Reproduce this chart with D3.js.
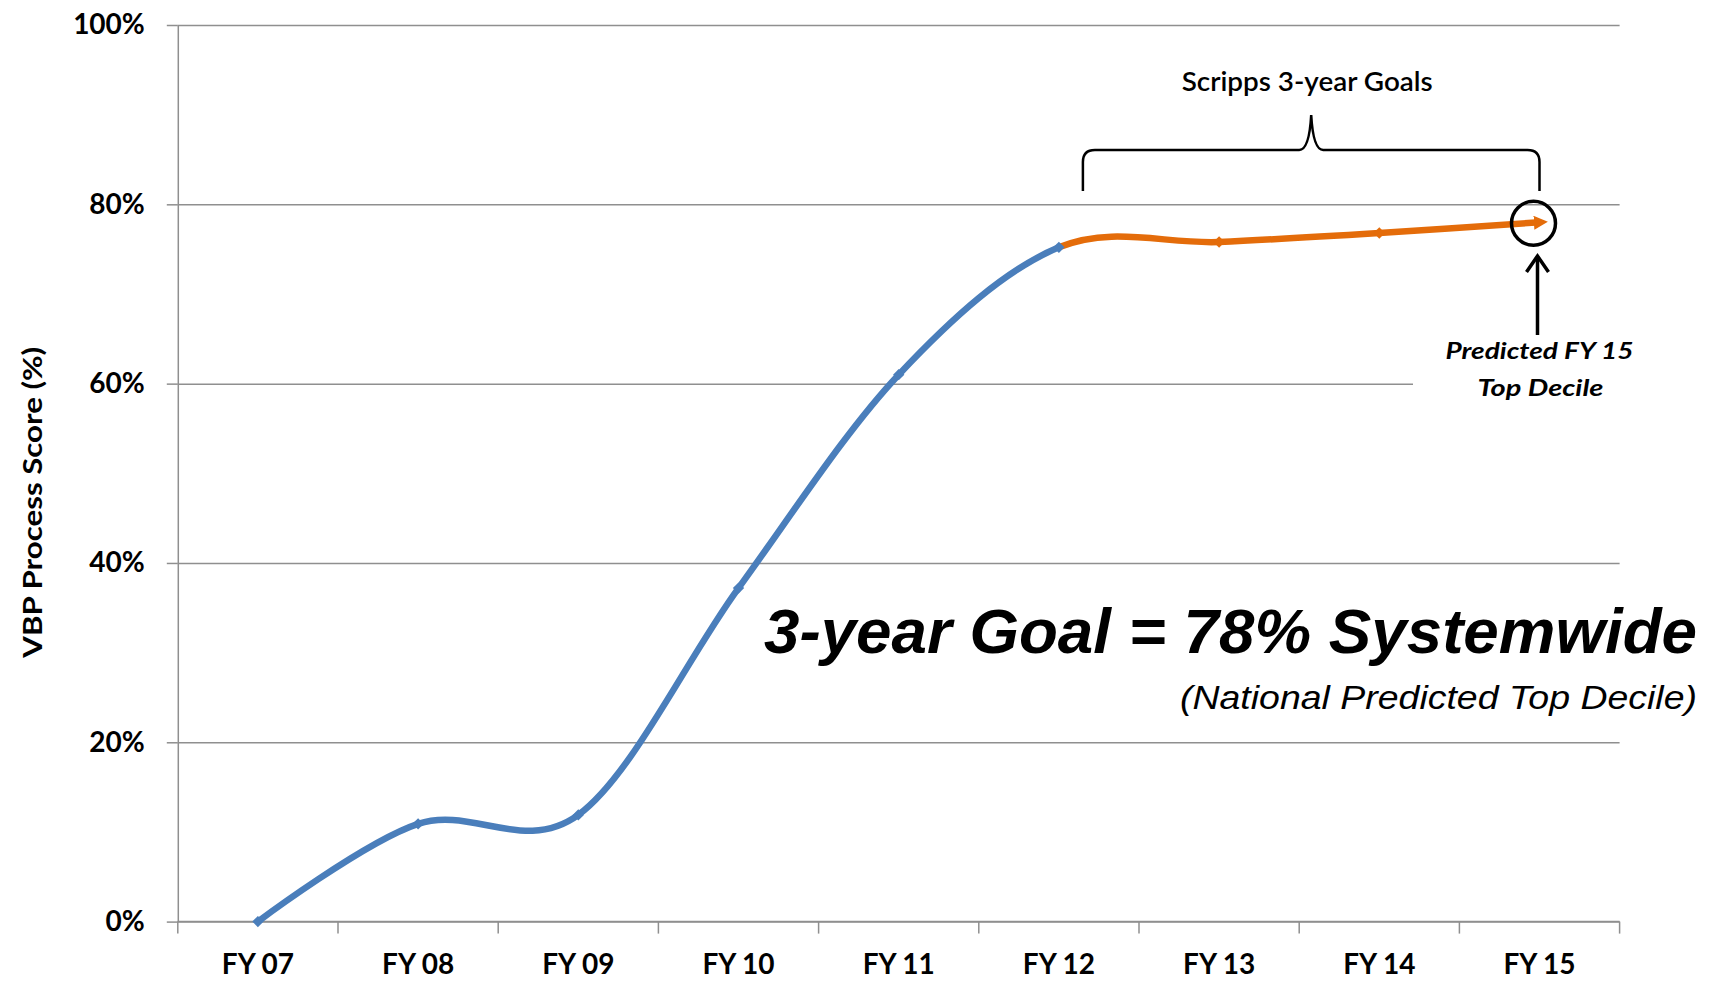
<!DOCTYPE html>
<html>
<head>
<meta charset="utf-8">
<script src="https://cdn.jsdelivr.net/npm/d3@7"></script>
<style>
  html, body { margin: 0; padding: 0; background: #fff; }
  svg { display: block; }
</style>
</head>
<body>
<svg id="chart" width="1710" height="987"></svg>
<script>
// ---- data ----
const categories = ["FY 07", "FY 08", "FY 09", "FY 10", "FY 11", "FY 12", "FY 13", "FY 14", "FY 15"];
const scores = [0, 10.9, 11.9, 37.2, 61.0, 75.2, 75.8, 76.8, 78.0];
const yTicks = [0, 20, 40, 60, 80, 100];
const splitCategory = "FY 12";   // actual -> goals
const goalCategory = "FY 15";
const goalValue = 78;
const yTitle = "VBP Process Score (%)";
const braceLabel = "Scripps 3-year Goals";
const predictedLines = ["Predicted FY 15", "Top Decile"];
const bigText = "3-year Goal = 78% Systemwide";
const subText = "(National Predicted Top Decile)";

(function () {
// ---- layout ----
const svg = d3.select("#chart");
const pLeft = 177.8, pRight = 1619.6, pTop = 25, pBottom = 921.6;
const blue = "#4a7ebb", orange = "#e46c0a", grid = "#8f8f8f";
const labelFont = "Lato, 'Open Sans', sans-serif";

const x = d3.scaleBand().domain(categories).range([pLeft, pRight]).padding(0);
const xc = c => x(c) + x.bandwidth() / 2;
const y = d3.scaleLinear().domain([0, 100]).range([pBottom, pTop]);

const pts = categories.map((c, i) => ({ c, v: scores[i] }));

// gridlines
svg.append("g")
  .attr("transform", `translate(${pLeft},0)`)
  .call(d3.axisLeft(y).tickValues(yTicks).tickSize(-(pRight - pLeft)).tickFormat(""))
  .call(g => g.select(".domain").remove())
  .call(g => g.selectAll("line").attr("stroke", grid).attr("stroke-width", 1.5));

// y axis
svg.append("g")
  .attr("transform", `translate(${pLeft},0)`)
  .call(d3.axisLeft(y).tickValues(yTicks).tickSizeInner(11).tickSizeOuter(0).tickPadding(22).tickFormat(d => d + "%"))
  .call(g => g.select(".domain").attr("stroke", grid).attr("stroke-width", 1.5))
  .call(g => g.selectAll("line").attr("stroke", grid).attr("stroke-width", 1.5))
  .call(g => g.selectAll("text")
    .attr("fill", "#000").attr("font-family", labelFont).attr("font-weight", "bold").attr("font-size", 28));

// x axis (line + boundary ticks)
const xAxisG = svg.append("g").attr("transform", `translate(0,${pBottom})`);
xAxisG.append("line").attr("x1", pLeft).attr("x2", pRight).attr("y1", 0).attr("y2", 0)
  .attr("stroke", grid).attr("stroke-width", 1.5);
const bounds = categories.map(c => x(c)).concat([x.range()[1]]);
xAxisG.selectAll("line.tick").data(bounds).join("line").attr("class", "tick")
  .attr("x1", d => d).attr("x2", d => d).attr("y1", 0).attr("y2", 12)
  .attr("stroke", grid).attr("stroke-width", 1.5);
svg.append("g")
  .attr("transform", `translate(0,${pBottom})`)
  .call(d3.axisBottom(x).tickSize(0).tickPadding(33))
  .call(g => g.select(".domain").remove())
  .call(g => g.selectAll("text")
    .attr("fill", "#000").attr("font-family", labelFont).attr("font-weight", "bold").attr("font-size", 28));

// y title
svg.append("text")
  .attr("transform", `translate(42,${(pTop + pBottom) / 2 + 29}) rotate(-90)`)
  .attr("text-anchor", "middle")
  .attr("font-family", labelFont).attr("font-weight", "bold").attr("font-size", 27)
  .attr("textLength", 311).attr("lengthAdjust", "spacingAndGlyphs")
  .text(yTitle);

// line (one smoothed series, coloured in two parts)
const xs = xc(splitCategory);
const defs = svg.append("defs");
defs.append("clipPath").attr("id", "clipBlue").append("rect")
  .attr("x", 0).attr("y", 0).attr("width", xs).attr("height", 987);
defs.append("clipPath").attr("id", "clipOrange").append("rect")
  .attr("x", xs).attr("y", 0).attr("width", 1710 - xs).attr("height", 987);
defs.append("marker").attr("id", "arrowOrange")
  .attr("viewBox", "0 -5 10 10").attr("refX", 4).attr("refY", 0)
  .attr("markerUnits", "userSpaceOnUse").attr("markerWidth", 14).attr("markerHeight", 14)
  .attr("orient", "auto")
  .append("path").attr("d", "M0,-5L10,0L0,5Z").attr("fill", orange);

const line = d3.line().x(d => xc(d.c)).y(d => y(d.v)).curve(d3.curveCardinal.tension(0));
svg.append("path").datum(pts).attr("d", line)
  .attr("fill", "none").attr("stroke", blue).attr("stroke-width", 6.5)
  .attr("clip-path", "url(#clipBlue)");
svg.append("path").datum(pts).attr("d", line)
  .attr("fill", "none").attr("stroke", orange).attr("stroke-width", 6.5)
  .attr("marker-end", "url(#arrowOrange)")
  .attr("clip-path", "url(#clipOrange)");

// markers
const splitIdx = categories.indexOf(splitCategory);
const lastIdx = categories.length - 1;
svg.append("g").selectAll("path").data(pts.filter((d, i) => i < lastIdx)).join("path")
  .attr("d", d3.symbol(d3.symbolSquare, 64))
  .attr("transform", d => `translate(${xc(d.c)},${y(d.v)}) rotate(45)`)
  .attr("fill", (d, i) => i <= splitIdx ? blue : orange);

// brace annotation
const bxL = xc(splitCategory) + 24, bxR = xc(goalCategory), bxM = (bxL + bxR) / 2;
const byB = 191, byH = 150, byT = 115;
const brace = d3.path();
brace.moveTo(bxL, byB);
brace.lineTo(bxL, byH + 12);
brace.quadraticCurveTo(bxL, byH, bxL + 12, byH);
brace.lineTo(bxM - 12, byH);
brace.quadraticCurveTo(bxM - 2, byH, bxM, byT);
brace.quadraticCurveTo(bxM + 2, byH, bxM + 12, byH);
brace.lineTo(bxR - 12, byH);
brace.quadraticCurveTo(bxR, byH, bxR, byH + 12);
brace.lineTo(bxR, byB);
svg.append("path").attr("d", brace.toString())
  .attr("fill", "none").attr("stroke", "#000").attr("stroke-width", 2.5);
svg.append("text").attr("x", bxM - 4).attr("y", 91)
  .attr("text-anchor", "middle")
  .attr("font-family", labelFont).attr("font-size", 26).attr("font-weight", 600)
  .attr("textLength", 251).attr("lengthAdjust", "spacingAndGlyphs")
  .text(braceLabel);

// circle around goal point
svg.append("circle").attr("cx", xc(goalCategory) - 6).attr("cy", y(goalValue) + 1).attr("r", 22)
  .attr("fill", "none").attr("stroke", "#000").attr("stroke-width", 3.5);

// white box for predicted label + arrow
const ax = xc(goalCategory) - 2;
svg.append("rect").attr("x", 1413).attr("y", 336).attr("width", 240).attr("height", 72).attr("fill", "#fff");
svg.append("line").attr("x1", ax).attr("x2", ax).attr("y1", 335).attr("y2", 257)
  .attr("stroke", "#000").attr("stroke-width", 3.5);
svg.append("path").attr("d", `M${ax - 11},${272} L${ax},${256} L${ax + 11},${272}`)
  .attr("fill", "none").attr("stroke", "#000").attr("stroke-width", 3.5).attr("stroke-linejoin", "miter");
svg.append("text").attr("x", ax + 2).attr("y", 359).attr("text-anchor", "middle")
  .attr("font-family", labelFont).attr("font-weight", "bold").attr("font-style", "italic").attr("font-size", 23)
  .attr("textLength", 188).attr("lengthAdjust", "spacingAndGlyphs")
  .text(predictedLines[0]);
svg.append("text").attr("x", ax + 3).attr("y", 396).attr("text-anchor", "middle")
  .attr("font-family", labelFont).attr("font-weight", "bold").attr("font-style", "italic").attr("font-size", 23)
  .attr("textLength", 126).attr("lengthAdjust", "spacingAndGlyphs")
  .text(predictedLines[1]);

// big goal text
svg.append("text").attr("x", 1697).attr("y", 653).attr("text-anchor", "end")
  .attr("font-family", "'Liberation Sans', Arial, sans-serif").attr("font-weight", "bold").attr("font-style", "italic")
  .attr("font-size", 63)
  .attr("textLength", 933).attr("lengthAdjust", "spacingAndGlyphs")
  .text(bigText);
svg.append("text").attr("x", 1697).attr("y", 709).attr("text-anchor", "end")
  .attr("font-family", "'Liberation Sans', Arial, sans-serif").attr("font-style", "italic")
  .attr("font-size", 33)
  .attr("textLength", 517).attr("lengthAdjust", "spacingAndGlyphs")
  .text(subText);
})();
</script>
</body>
</html>
